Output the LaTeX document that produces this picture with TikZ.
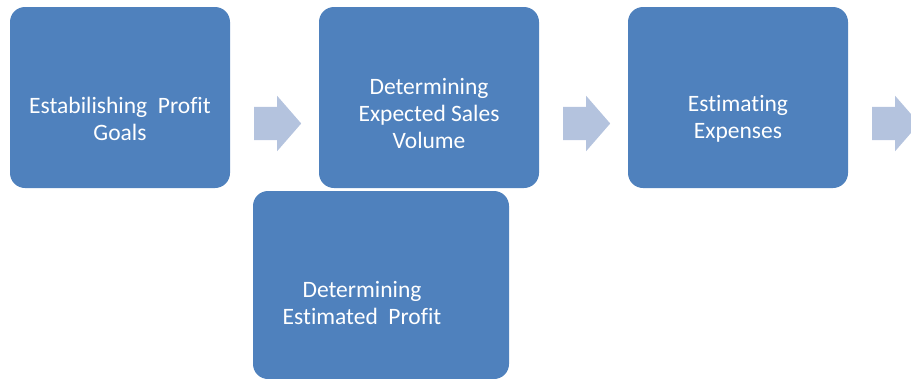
\documentclass[tikz,border=0pt]{standalone}
\usepackage{fontspec}
\setmainfont{Carlito}[Ligatures=NoCommon]
\usetikzlibrary{shapes.arrows}
\definecolor{stepBlue}{HTML}{4F81BD}
\definecolor{arrowBlue}{HTML}{B4C3DE}
\tikzset{
  stage/.style={fill=stepBlue, rounded corners=15pt, inner sep=0pt,
    minimum width=220pt, minimum height=181pt},
  stagetext/.style={text=white, align=center,
    font=\fontsize{23.5}{27}\selectfont},
  blockarrow/.style={single arrow, fill=arrowBlue, inner xsep=0pt,
    inner ysep=16.5pt, minimum height=47pt, anchor=tail,
    single arrow head extend=11pt, single arrow tip angle=98}
}
\begin{document}
\begin{tikzpicture}[x=1pt,y=-1pt]
\useasboundingbox (0,0) rectangle (911,378);

% top row of steps
\node[stage] (goals) at (120,97.5) {};
\node[stagetext] (goalsText) at (120,119) {Estabilishing\ \ Profit\\Goals};

\node[stage] (volume) at (429,97.5) {};
\node[stagetext] (volumeText) at (429,113) {Determining\\Expected Sales\\Volume};

\node[stage] (expenses) at (738,97.5) {};
\node[stagetext] (expensesText) at (738,119) {Estimating\\Expenses};

% last step, placed below
\node[stage, minimum width=256pt, minimum height=188pt] (profit) at (381,285) {};
\node[stagetext] (profitText) at (362,303) {Determining\\Estimated\ \ Profit};

% block arrows between the steps
\node[blockarrow] (arrowA) at (254,123.5) {};
\node[blockarrow] (arrowB) at (563,123.5) {};
\node[blockarrow] (arrowC) at (872,123.5) {};

\end{tikzpicture}
\end{document}
